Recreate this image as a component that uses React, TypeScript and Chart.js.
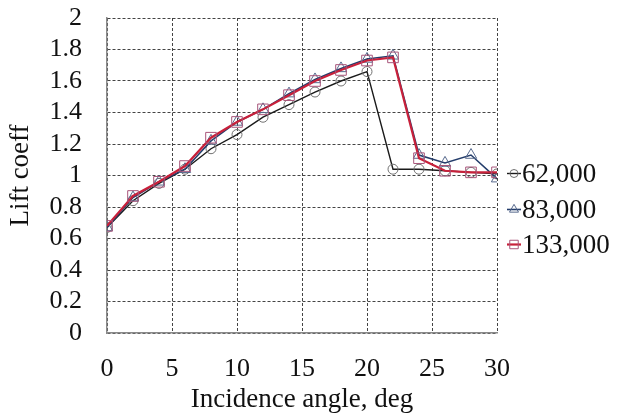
import React, { useEffect, useRef } from "react";
import { Chart, registerables } from "chart.js";

Chart.register(...registerables);

const angles = [0, 2, 4, 6, 8, 10, 12, 14, 16, 18, 20, 22, 24, 26, 28, 30];
const re62000 = [0.67, 0.84, 0.95, 1.04, 1.17, 1.26, 1.37, 1.45, 1.53, 1.6, 1.66, 1.04, 1.04, 1.03, 1.02, 1.01];
const re83000 = [0.67, 0.86, 0.96, 1.04, 1.22, 1.34, 1.42, 1.52, 1.61, 1.68, 1.74, 1.76, 1.13, 1.08, 1.13, 0.98];
const re133000 = [0.68, 0.87, 0.96, 1.06, 1.24, 1.34, 1.42, 1.51, 1.6, 1.67, 1.73, 1.75, 1.11, 1.03, 1.02, 1.02];
const seriesLabels = ["62,000", "83,000", "133,000"];
const xTitle = "Incidence angle, deg";
const yTitle = "Lift coeff";

const FONT = "'Liberation Serif', 'Times New Roman', serif";

const styles = [
  { line: "#1a1a1a", point: "#707070", shape: "circle", radius: 5, width: 1.4 },
  { line: "#243d6b", point: "#56688c", shape: "triangle", radius: 6.5, width: 1.6 },
  { line: "#c8203a", point: "#a8557a", shape: "rect", radius: 7.5, width: 2.2 },
];

const legendPlugin = {
  id: "customLegend",
  afterDraw(chart: any) {
    const { ctx, chartArea } = chart;
    const x0 = chartArea.right + 10;
    const mid = (chartArea.top + chartArea.bottom) / 2;
    const ys = [mid - 2, mid + 34, mid + 69];
    ctx.save();
    ys.forEach((y, i) => {
      const s = styles[i];
      ctx.strokeStyle = s.line;
      ctx.lineWidth = s.width;
      ctx.beginPath();
      ctx.moveTo(x0, y);
      ctx.lineTo(x0 + 14, y);
      ctx.stroke();
      ctx.lineWidth = 1;
      ctx.strokeStyle = s.point;
      const r = s.radius * 0.8;
      const cx = x0 + 7;
      ctx.beginPath();
      if (s.shape === "circle") {
        ctx.arc(cx, y, r, 0, Math.PI * 2);
      } else if (s.shape === "triangle") {
        const h = r * 1.5;
        ctx.moveTo(cx, y - h * 0.66);
        ctx.lineTo(cx + r * 0.87, y + h * 0.34);
        ctx.lineTo(cx - r * 0.87, y + h * 0.34);
        ctx.closePath();
      } else {
        const sz = r * Math.SQRT1_2;
        ctx.rect(cx - sz, y - sz, sz * 2, sz * 2);
      }
      ctx.stroke();
      ctx.fillStyle = "#111";
      ctx.font = `27px ${FONT}`;
      ctx.textBaseline = "middle";
      ctx.textAlign = "left";
      ctx.fillText(seriesLabels[i], x0 + 15, y + 1);
    });
    ctx.restore();
  },
};

export default function App() {
  const ref = useRef<HTMLCanvasElement>(null);
  useEffect(() => {
    document.body.style.margin = "0";
    const series = [re62000, re83000, re133000];
    const chart = new Chart(ref.current!, {
      type: "line",
      data: {
        datasets: series.map((vals, i) => ({
          label: seriesLabels[i],
          data: angles.map((a, j) => ({ x: a, y: vals[j] })),
          borderColor: styles[i].line,
          borderWidth: styles[i].width,
          pointStyle: styles[i].shape as any,
          pointRadius: styles[i].radius,
          pointBorderColor: styles[i].point,
          pointBorderWidth: 1,
          pointBackgroundColor: "rgba(0,0,0,0)",
          tension: 0,
          fill: false,
          order: 2 - i,
        })),
      },
      options: {
        animation: false,
        responsive: false,
        events: [],
        layout: { padding: { top: 18, right: 123, left: 0, bottom: 0 } },
        plugins: { legend: { display: false }, tooltip: { enabled: false } },
        scales: {
          x: {
            type: "linear",
            min: 0,
            max: 30,
            ticks: {
              stepSize: 5,
              color: "#111",
              font: { family: FONT, size: 26 },
              padding: 21,
              maxRotation: 0,
              autoSkip: false,
            },
            grid: { color: "#444", drawTicks: false, lineWidth: 1 },
            border: { color: "#8a8a8a", width: 1.5, dash: [3, 2] },
            title: {
              display: true,
              text: xTitle,
              color: "#111",
              font: { family: FONT, size: 27 },
              padding: { top: 0, bottom: 0 },
            },
            afterFit(scale: any) {
              scale.height = 83;
              scale.paddingLeft = 0;
              scale.paddingRight = 0;
            },
          },
          y: {
            type: "linear",
            min: 0,
            max: 2,
            ticks: {
              stepSize: 0.2,
              color: "#111",
              font: { family: FONT, size: 26 },
              padding: 25,
              autoSkip: false,
              callback: (v: any) => String(Number(Number(v).toFixed(1))),
            },
            grid: { color: "#444", drawTicks: false, lineWidth: 1 },
            border: { color: "#8a8a8a", width: 1.5, dash: [3, 2] },
            title: {
              display: true,
              text: yTitle,
              color: "#111",
              font: { family: FONT, size: 27 },
              padding: { top: 5, bottom: 0 },
            },
            afterFit(scale: any) {
              scale.width = 107;
              scale.paddingTop = 0;
              scale.paddingBottom = 0;
            },
          },
        },
      },
      plugins: [legendPlugin],
    });
    return () => chart.destroy();
  }, []);
  return (
    <div style={{ position: "absolute", left: 0, top: 0, width: 620, height: 416, background: "#fff" }}>
      <canvas ref={ref} width={620} height={416} style={{ display: "block" }} />
    </div>
  );
}
